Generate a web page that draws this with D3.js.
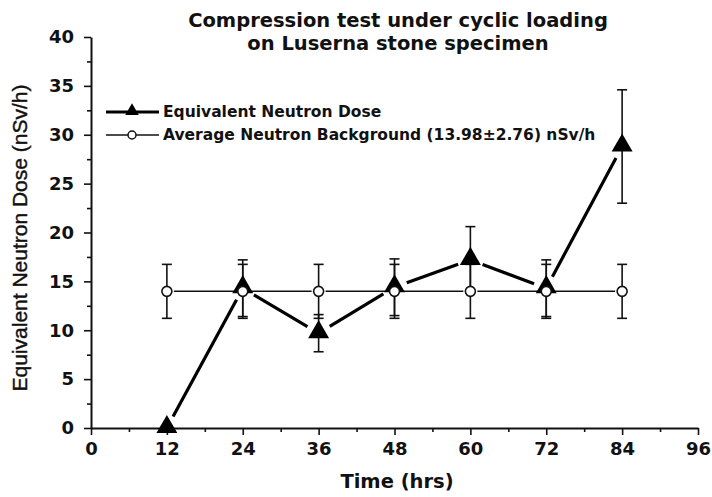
<!DOCTYPE html>
<html>
<head>
<meta charset="utf-8">
<script src="https://cdn.jsdelivr.net/npm/d3@7"></script>
<style>
  body { margin: 0; background: #fff; }
  text { font-family: "DejaVu Sans", "Liberation Sans", sans-serif; fill: #111; }
</style>
</head>
<body>
<svg id="chart" width="712" height="497"></svg>
<script>
// data
const hours = [12, 24, 36, 48, 60, 72, 84]
const doseVal = [0, 14.3, 9.7, 14.4, 17.2, 14.3, 28.8]
const doseErr = [0, 2.9, 1.9, 2.9, 3.4, 2.9, 5.8]
const bgVal = [13.98, 13.98, 13.98, 13.98, 13.98, 13.98, 13.98]
const bgErr = [2.76, 2.76, 2.76, 2.76, 2.76, 2.76, 2.76]
const xTicks = [0, 12, 24, 36, 48, 60, 72, 84, 96]
const yTicks = [0, 5, 10, 15, 20, 25, 30, 35, 40]
const legendLabels = ['Equivalent Neutron Dose', 'Average Neutron Background (13.98\u00b12.76) nSv/h']

const svg = d3.select('#chart')
const x = d3.scaleLinear().domain([0, 96]).range([91, 698])
const y = d3.scaleLinear().domain([0, 40]).range([428, 37])

const dose = hours.map((h, i) => ({h: h, v: doseVal[i], e: doseErr[i]}))
const bg = hours.map((h, i) => ({h: h, v: bgVal[i], e: bgErr[i]}))

// axes
const xAxis = svg.append('g').attr('transform', 'translate(0,' + y(0) + ')')
xAxis.call(d3.axisBottom(x).tickValues(xTicks).tickSize(7).tickSizeOuter(0).tickPadding(7))
xAxis.append('g').call(d3.axisBottom(x).tickValues(d3.range(6, 96, 12)).tickSize(4).tickFormat(''))
  .select('.domain').remove()

const yAxis = svg.append('g').attr('transform', 'translate(' + x(0) + ',0)')
yAxis.call(d3.axisLeft(y).tickValues(yTicks).tickSize(7).tickSizeOuter(0).tickPadding(10))
yAxis.append('g').call(d3.axisLeft(y).tickValues(d3.range(2.5, 40, 5)).tickSize(4).tickFormat(''))
  .select('.domain').remove()

svg.selectAll('.domain').attr('stroke', '#111').attr('stroke-width', 2)
svg.selectAll('.tick line').attr('stroke', '#111').attr('stroke-width', 1.6)
svg.selectAll('.tick text').style('font-family', '"DejaVu Sans", sans-serif')
  .style('font-size', '18px').style('font-weight', 'bold').attr('fill', '#111')

// gapped segments between markers
function segments(pts, gap) {
  const out = []
  for (let i = 0; i < pts.length - 1; i++) {
    const x1 = x(pts[i].h), y1 = y(pts[i].v), x2 = x(pts[i + 1].h), y2 = y(pts[i + 1].v)
    const len = Math.hypot(x2 - x1, y2 - y1)
    const ux = (x2 - x1) / len, uy = (y2 - y1) / len
    out.push({x1: x1 + ux * gap, y1: y1 + uy * gap, x2: x2 - ux * gap, y2: y2 - uy * gap})
  }
  return out
}

function errorBars(data, cls) {
  const g = svg.append('g').attr('class', cls).attr('stroke', '#111').attr('stroke-width', 1.6)
  const d2 = data.filter(d => d.e > 0)
  g.selectAll('line.v').data(d2).join('line')
    .attr('x1', d => x(d.h)).attr('x2', d => x(d.h))
    .attr('y1', d => y(d.v + d.e)).attr('y2', d => y(d.v - d.e))
  g.selectAll('line.top').data(d2).join('line')
    .attr('x1', d => x(d.h) - 5).attr('x2', d => x(d.h) + 5)
    .attr('y1', d => y(d.v + d.e)).attr('y2', d => y(d.v + d.e))
  g.selectAll('line.bot').data(d2).join('line')
    .attr('x1', d => x(d.h) - 5).attr('x2', d => x(d.h) + 5)
    .attr('y1', d => y(d.v - d.e)).attr('y2', d => y(d.v - d.e))
}

// background series
errorBars(bg, 'bgerr')
svg.append('g').selectAll('line').data(segments(bg, 7)).join('line')
  .attr('x1', d => d.x1).attr('y1', d => d.y1).attr('x2', d => d.x2).attr('y2', d => d.y2)
  .attr('stroke', '#111').attr('stroke-width', 1.5)

// dose series
errorBars(dose, 'doseerr')
svg.append('g').selectAll('line').data(segments(dose, 13)).join('line')
  .attr('x1', d => d.x1).attr('y1', d => d.y1).attr('x2', d => d.x2).attr('y2', d => d.y2)
  .attr('stroke', '#000').attr('stroke-width', 3.2)

const tri = d3.symbol().type(d3.symbolTriangle).size(190)
svg.append('g').selectAll('path').data(dose).join('path')
  .attr('d', tri)
  .attr('transform', d => 'translate(' + x(d.h) + ',' + (y(d.v) - 1) + ')')
  .attr('fill', '#000')

svg.append('g').selectAll('circle').data(bg).join('circle')
  .attr('cx', d => x(d.h)).attr('cy', d => y(d.v)).attr('r', 5)
  .attr('fill', '#fff').attr('stroke', '#111').attr('stroke-width', 1.6)

// legend
const leg = svg.append('g')
leg.append('line').attr('x1', 106).attr('x2', 159).attr('y1', 112).attr('y2', 112)
  .attr('stroke', '#000').attr('stroke-width', 3)
leg.append('path').attr('d', d3.symbol().type(d3.symbolTriangle).size(80))
  .attr('transform', 'translate(132,111)')
leg.append('line').attr('x1', 106).attr('x2', 159).attr('y1', 135).attr('y2', 135)
  .attr('stroke', '#111').attr('stroke-width', 1.5)
leg.append('circle').attr('cx', 132).attr('cy', 135).attr('r', 4)
  .attr('fill', '#fff').attr('stroke', '#111').attr('stroke-width', 1.5)
leg.selectAll('text').data(legendLabels).join('text')
  .attr('x', 163).attr('y', (d, i) => 117 + i * 23)
  .style('font-size', '15.5px').style('font-weight', 'bold')
  .text(d => d)

// titles
svg.append('text').attr('x', 398).attr('y', 27).attr('text-anchor', 'middle')
  .style('font-size', '19.5px').style('font-weight', 'bold')
  .text('Compression test under cyclic loading')
svg.append('text').attr('x', 398).attr('y', 50).attr('text-anchor', 'middle')
  .style('font-size', '19.5px').style('font-weight', 'bold')
  .text('on Luserna stone specimen')

svg.append('text').attr('x', 397).attr('y', 488).attr('text-anchor', 'middle')
  .style('font-size', '19.5px').style('font-weight', 'bold')
  .text('Time (hrs)')

svg.append('text').attr('transform', 'translate(27,238) rotate(-90)').attr('text-anchor', 'middle')
  .style('font-family', '"Liberation Sans", sans-serif')
  .style('font-size', '21px').style('stroke', '#111').style('stroke-width', 0.4)
  .text('Equivalent Neutron Dose (nSv/h)')
</script>
</body>
</html>
